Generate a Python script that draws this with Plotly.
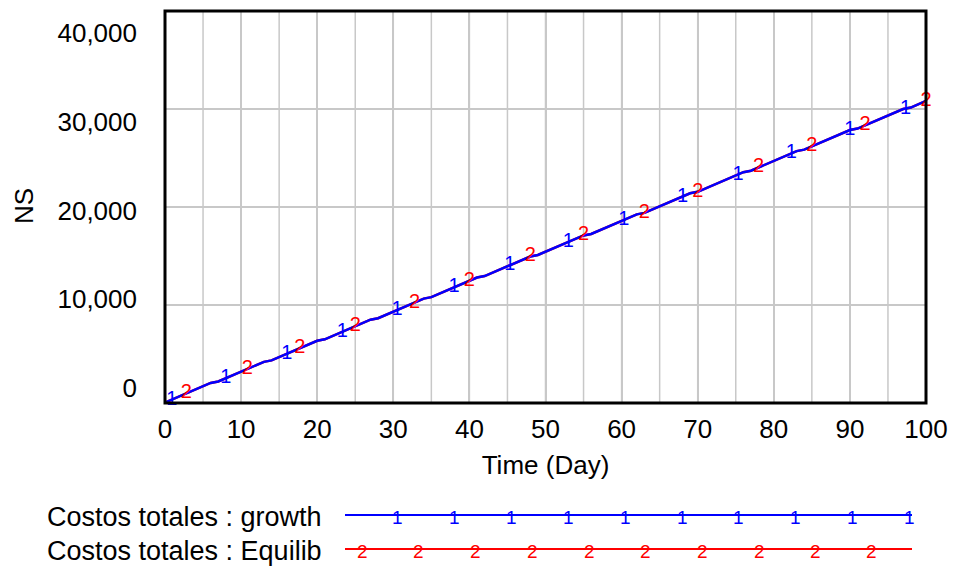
import numpy as np
import plotly.graph_objects as go

# ---- data ----
days = [0, 6, 7, 13, 14, 20, 21, 27, 28, 34, 35, 41, 42, 48, 49, 55, 56, 62, 63,
        69, 70, 76, 77, 83, 84, 90, 91, 97, 98, 100]
growth = [50, 2050, 2200, 4200, 4350, 6350, 6500, 8500, 8650, 10650, 10800, 12800,
          12950, 14950, 15100, 17100, 17250, 19250, 19400, 21400, 21550, 23550,
          23700, 25700, 25850, 27850, 28000, 30000, 30150, 30820]
equilib = [50, 2050, 2200, 4200, 4350, 6350, 6500, 8500, 8650, 10650, 10800, 12800,
           12950, 14950, 15100, 17100, 17250, 19250, 19400, 21400, 21550, 23550,
           23700, 25700, 25850, 27850, 28000, 30000, 30150, 30820]
growth_mark_days = [0.9, 8, 16, 23.3, 30.5, 38, 45.3, 53, 60.3, 68, 75.3, 82.3, 90, 97.3]
equilib_mark_days = [2.8, 10.8, 17.7, 25, 32.8, 40, 48, 55, 63, 70, 78, 85, 92, 100]
y_tick_vals = [0, 10000, 20000, 30000, 40000]
y_tick_text = ["0", "10,000", "20,000", "30,000", "40,000"]
x_tick_vals = list(range(0, 101, 10))
series_names = ["Costos totales : growth", "Costos totales : Equilib"]
series_colors = ["#0000ff", "#ff0000"]
series_digits = ["1", "2"]

# ---- layout geometry ----
W, H = 965, 572
L, R, T, B = 165, 926, 11, 403
FONT = "Liberation Sans, Arial, sans-serif"
FS = 26


def px_x(px):
    return (px - L) / (R - L)


def px_y(py):
    return (B - py) / (B - T)


fig = go.Figure()

# red first (underneath), blue on top
fig.add_trace(go.Scatter(x=days, y=equilib, mode="lines",
                         line=dict(color=series_colors[1], width=2.5), showlegend=False))
fig.add_trace(go.Scatter(x=days, y=growth, mode="lines",
                         line=dict(color=series_colors[0], width=2.5), showlegend=False))

fig.add_trace(go.Scatter(x=growth_mark_days, y=np.interp(growth_mark_days, days, growth),
                         mode="text", text=[series_digits[0]] * len(growth_mark_days),
                         textposition="middle center", cliponaxis=False,
                         textfont=dict(color=series_colors[0], size=20, family=FONT),
                         showlegend=False))
fig.add_trace(go.Scatter(x=equilib_mark_days, y=np.interp(equilib_mark_days, days, equilib),
                         mode="text", text=[series_digits[1]] * len(equilib_mark_days),
                         textposition="middle center", cliponaxis=False,
                         textfont=dict(color=series_colors[1], size=20, family=FONT),
                         showlegend=False))

# invisible trace to carry the label axis
fig.add_trace(go.Scatter(x=[None], y=[None], yaxis="y2", showlegend=False, hoverinfo="skip"))

# y label axis range so labels sit slightly inside (as in reference)
lab_top, lab_bot = 33, 388
ppu = (lab_bot - lab_top) / 40000.0
y2_lo = 0 - (B - lab_bot) / ppu
y2_hi = 40000 + (lab_top - T) / ppu

fig.update_layout(
    width=W, height=H,
    margin=dict(l=L, r=W - R, t=T, b=H - B, autoexpand=False),
    paper_bgcolor="white", plot_bgcolor="white",
    font=dict(family=FONT, size=FS, color="black"),
    xaxis=dict(range=[0, 100], tickvals=x_tick_vals, showgrid=True,
               gridcolor="#c8c8c8", gridwidth=1.5,
               zeroline=False, showline=False, ticks="", ticklabelstandoff=8,
               tickfont=dict(size=FS), automargin=False,
               title=dict(text="Time (Day)", standoff=12, font=dict(size=FS))),
    yaxis=dict(range=[0, 40000], tickvals=y_tick_vals, showgrid=True,
               gridcolor="#c8c8c8", gridwidth=1.5, showticklabels=False,
               zeroline=False, showline=False, ticks="", automargin=False),
    yaxis2=dict(range=[y2_lo, y2_hi], overlaying="y", side="left", anchor="x",
                tickvals=y_tick_vals, ticktext=y_tick_text, showgrid=False,
                zeroline=False, showline=False, ticks="", ticklabelstandoff=27,
                tickfont=dict(size=FS), automargin=False),
)

# y title placed like the reference (rotated, far left)
fig.add_annotation(xref="paper", yref="paper", x=px_x(24), y=px_y(206), text="NS",
                   textangle=-90, showarrow=False, xanchor="center", yanchor="middle",
                   font=dict(size=FS, color="black", family=FONT))

# vertical grid every 5 days
for xv in range(5, 100, 5):
    fig.add_shape(type="line", xref="x", yref="paper", x0=xv, x1=xv, y0=0, y1=1,
                  line=dict(color="#c8c8c8", width=1.5), layer="below")

# thick frame
fig.add_shape(type="rect", xref="paper", yref="paper", x0=0, x1=1, y0=0, y1=1,
              line=dict(color="black", width=3))

# custom legend
leg_rows = [517, 551]
line_x0, line_x1 = 345, 912
digit_pos = [[397, 454, 511, 568, 625, 682, 738, 795, 852, 909],
             [362, 418, 475, 532, 589, 645, 702, 759, 815, 871]]
for i in range(2):
    py = leg_rows[i]
    fig.add_annotation(xref="paper", yref="paper", x=px_x(45), y=px_y(py),
                       text=series_names[i], showarrow=False, xanchor="left",
                       yanchor="middle", font=dict(size=27, color="black", family=FONT))
    fig.add_shape(type="line", xref="paper", yref="paper",
                  x0=px_x(line_x0), x1=px_x(line_x1), y0=px_y(py - 2), y1=px_y(py - 2),
                  line=dict(color=series_colors[i], width=2))
    for dx in digit_pos[i]:
        fig.add_annotation(xref="paper", yref="paper", x=px_x(dx), y=px_y(py),
                           text=series_digits[i], showarrow=False, xanchor="center",
                           yanchor="middle",
                           font=dict(size=19, color=series_colors[i], family=FONT))

fig.write_html("out.html", config={"displayModeBar": False},
               post_script="document.body.style.margin='0';document.body.style.overflow='hidden';")
